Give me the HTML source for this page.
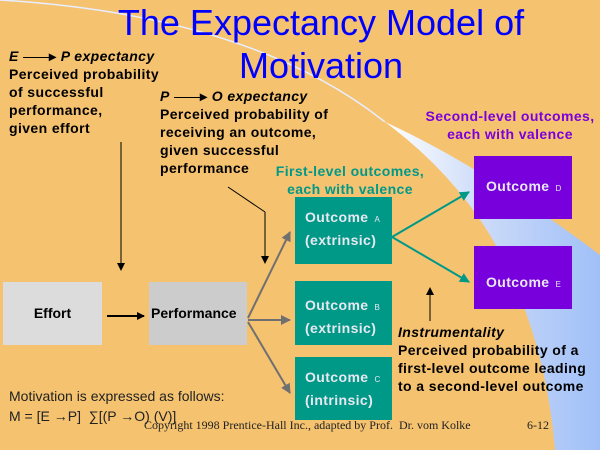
<!DOCTYPE html>
<html><head><meta charset="utf-8"><style>
body{margin:0}
#c{position:relative;width:600px;height:450px;background:#F5C270;overflow:hidden;font-family:"Liberation Sans",sans-serif}
.t{position:absolute;white-space:nowrap}
.b{font-weight:bold;font-size:14px;line-height:18px;color:#000;letter-spacing:0.4px}
.box{position:absolute;color:#E8E8F0;font-weight:bold;font-size:14px;line-height:20px;letter-spacing:0.4px}
.box small{font-size:8px;font-weight:normal;margin-left:6px}
</style></head><body><div id="c">
<svg width="600" height="450" style="position:absolute;left:0;top:0">
<defs><linearGradient id="g" x1="0" y1="0" x2="1" y2="0"><stop offset="0" stop-color="#fff"/><stop offset="0.5" stop-color="#C8D8F8"/><stop offset="1" stop-color="#A0C0F8"/></linearGradient>
<marker id="a" markerUnits="userSpaceOnUse" markerWidth="8" markerHeight="8" refX="7" refY="4" orient="auto"><path d="M0,0L8,4L0,8z" fill="#000"/></marker>
<marker id="gr" markerUnits="userSpaceOnUse" markerWidth="10" markerHeight="10" refX="9" refY="5" orient="auto"><path d="M0,0L10,5L0,10z" fill="#707070"/></marker>
<marker id="tl" markerUnits="userSpaceOnUse" markerWidth="10" markerHeight="10" refX="9" refY="5" orient="auto"><path d="M0,0L10,5L0,10z" fill="#009988"/></marker></defs>
<path d="M0,0 Q250,15 385,122" fill="none" stroke="#E8EEFF" stroke-width="1.5"/>
<path d="M385,122 Q480,165 600,255 L600,450 L555,450 Q545,330 490,235 Q450,170 385,122z" fill="url(#g)"/>
<line x1="121" y1="142" x2="121" y2="270" stroke="#000" marker-end="url(#a)"/>
<line x1="228" y1="187" x2="265" y2="212" stroke="#000"/>
<line x1="265" y1="212" x2="265" y2="263" stroke="#000" marker-end="url(#a)"/>
<line x1="107" y1="316" x2="144" y2="316" stroke="#000" stroke-width="2" marker-end="url(#a)"/>
<line x1="248" y1="318" x2="290" y2="232" stroke="#707070" stroke-width="2" marker-end="url(#gr)"/>
<line x1="248" y1="320" x2="290" y2="320" stroke="#707070" stroke-width="2" marker-end="url(#gr)"/>
<line x1="248" y1="322" x2="290" y2="393" stroke="#707070" stroke-width="2" marker-end="url(#gr)"/>
<line x1="392" y1="237" x2="469" y2="192" stroke="#009988" stroke-width="2" marker-end="url(#tl)"/>
<line x1="392" y1="237" x2="469" y2="282" stroke="#009988" stroke-width="2" marker-end="url(#tl)"/>
<line x1="430" y1="321" x2="430" y2="288" stroke="#000" marker-end="url(#a)"/>
</svg>
<div class="t" style="left:0;width:642px;top:1px;text-align:center;color:#0000FF;font-size:36px;line-height:43px">The Expectancy Model of<br>Motivation</div>
<div class="t b" style="left:9px;top:47px"><i>E</i> <span style="display:inline-block;width:26px;border-top:1px solid #000;vertical-align:middle"></span>&#9656; <i>P expectancy</i><br>Perceived probability<br>of successful<br>performance,<br>given effort</div>
<div class="t b" style="left:160px;top:87px"><i>P</i> <span style="display:inline-block;width:26px;border-top:1px solid #000;vertical-align:middle"></span>&#9656; <i>O expectancy</i><br>Perceived probability of<br>receiving an outcome,<br>given successful<br>performance</div>
<div class="t b" style="left:235px;width:230px;text-align:center;top:162px;color:#009988">First-level outcomes,<br>each with valence</div>
<div class="t b" style="left:410px;width:200px;text-align:center;top:107px;color:#7B00DD">Second-level outcomes,<br>each with valence</div>
<div class="t b" style="left:398px;top:323px"><i>Instrumentality</i><br>Perceived probability of a<br>first-level outcome leading<br>to a second-level outcome</div>
<div style="position:absolute;left:3px;top:282px;width:99px;height:63px;background:#DCDCDC;font-weight:bold;font-size:14px;line-height:63px;text-align:center">Effort</div>
<div style="position:absolute;left:149px;top:282px;width:98px;height:63px;background:#CCCCCC;font-weight:bold;font-size:14px;line-height:63px;padding-left:2px;box-sizing:border-box;white-space:nowrap">Performance</div>
<div class="box" style="left:295px;top:197px;width:97px;height:67px;background:#009988;padding:10px 0 0 10px;box-sizing:border-box">Outcome<small>A</small><br>(extrinsic)</div>
<div class="box" style="left:295px;top:281px;width:97px;height:64px;background:#009988;padding:14px 0 0 10px;box-sizing:border-box">Outcome<small>B</small><br>(extrinsic)</div>
<div class="box" style="left:295px;top:357px;width:97px;height:63px;background:#009988;padding:10px 0 0 10px;box-sizing:border-box">Outcome<small>C</small><br>(intrinsic)</div>
<div class="box" style="left:474px;top:156px;width:98px;height:63px;background:#7700DD;padding:20px 0 0 12px;box-sizing:border-box">Outcome<small>D</small></div>
<div class="box" style="left:474px;top:246px;width:98px;height:63px;background:#7700DD;padding:26px 0 0 12px;box-sizing:border-box">Outcome<small>E</small></div>
<div class="t" style="left:9px;top:386px;font-size:14px;line-height:20px;color:#222">Motivation is expressed as follows:<br>M = [E &rarr;P] &nbsp;&sum;[(P &rarr;O) (V)]</div>
<div class="t" style="left:144px;top:418px;font-family:'Liberation Serif',serif;font-size:12px;color:#222">Copyright 1998 Prentice-Hall Inc., adapted by Prof.&nbsp; Dr. vom Kolke</div>
<div class="t" style="left:527px;top:418px;font-family:'Liberation Serif',serif;font-size:12px;color:#222">6-12</div>
</div></body></html>
